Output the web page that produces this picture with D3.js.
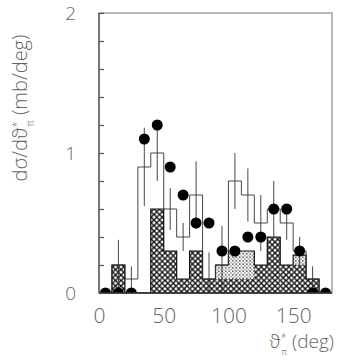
<!DOCTYPE html>
<html><head><meta charset="utf-8">
<script src="https://cdn.jsdelivr.net/npm/d3@7"></script>
<style>
body{margin:0;background:#fff;}
svg{display:block;}
.lbl{font-family:"Open Sans",sans-serif;font-weight:300;fill:#666;}
</style></head>
<body>
<svg id="c" width="337" height="361"></svg>
<script>
// bin edges (deg), 10-degree bins
const binStarts = [0,10,20,30,40,50,60,70,80,90,100,110,120,130,140,150,160,170];
// thin-line histogram and its errors
const histValues = [0,0.2,0.1,0.9,1.0,0.6,0.4,0.7,0.1,0.2,0.8,0.7,0.5,0.6,0.5,0.3,0.1,0];
const histErrors = [0,0.18,0.09,0.28,0.2,0.15,0.1,0.24,0.19,0.28,0.2,0.19,0.2,0.2,0.12,0.1,0.09,0];
// hatched histograms: total (fine pattern) and coarse cross-hatched part
const hatchFine   = [0,0.2,0,0,0.6,0.3,0.1,0.3,0.1,0.2,0.3,0.3,0.2,0.4,0.2,0.27,0.1,0];
const hatchCoarse = [0,0.2,0,0,0.6,0.3,0.1,0.3,0.1,0.1,0.1,0.1,0.2,0.4,0.2,0.2,0.1,0];
// data points (bin centres)
const dotValues = [0,0,0,1.1,1.2,0.9,0.7,0.5,0.5,0.3,0.3,0.4,0.4,0.6,0.6,0.3,0,0];
const xTicks = [0,50,100,150];
const yTicks = [0,1,2];
const yMinorTicks = [0,0.2,0.4,0.6,0.8,1.0,1.2,1.4,1.6,1.8,2.0];
const binWidth = 10;

const svg = d3.select("#c");
const x = d3.scaleLinear([0,180],[99,332]);
const y = d3.scaleLinear([0,2],[293,13]);

const defs = svg.append("defs");
// coarse crosshatch (white diamonds)
const s = 5.5;
const pc = defs.append("pattern").attr("id","coarse").attr("patternUnits","userSpaceOnUse")
  .attr("width",s).attr("height",s);
pc.append("rect").attr("width",s).attr("height",s).attr("fill","#fff");
pc.append("path").attr("d",`M0,0L${s},${s}M${s},0L0,${s}`)
  .attr("stroke","#111").attr("stroke-width",1.4);
pc.append("path").attr("d",`M${-1},${1}L${1},${-1}M${s-1},${s+1}L${s+1},${s-1}M${-1},${s-1}L${1},${s+1}M${s-1},${-1}L${s+1},${1}`)
  .attr("stroke","#111").attr("stroke-width",1.4);
// fine dotted hatch
const pf = defs.append("pattern").attr("id","fine").attr("patternUnits","userSpaceOnUse")
  .attr("width",3.5).attr("height",3.5);
pf.append("rect").attr("width",3.5).attr("height",3.5).attr("fill","#fff");
pf.append("circle").attr("cx",1.75).attr("cy",1.75).attr("r",0.8).attr("fill","#333");
pf.append("circle").attr("cx",0).attr("cy",0).attr("r",0.6).attr("fill","#333");
pf.append("circle").attr("cx",3.5).attr("cy",3.5).attr("r",0.6).attr("fill","#333");
pf.append("circle").attr("cx",0).attr("cy",3.5).attr("r",0.6).attr("fill","#333");
pf.append("circle").attr("cx",3.5).attr("cy",0).attr("r",0.6).attr("fill","#333");

defs.append("clipPath").attr("id","plot").append("rect")
  .attr("x",x(0)).attr("y",y(2)).attr("width",x(180)-x(0)).attr("height",y(0)-y(2));

const g = svg.append("g").attr("clip-path","url(#plot)");

// fine hatched bars
g.selectAll("rect.fine").data(binStarts.map((b,i)=>({b,v:hatchFine[i]})).filter(d=>d.v>0))
 .join("rect").attr("class","fine")
 .attr("x",d=>x(d.b)).attr("width",d=>x(d.b+binWidth)-x(d.b))
 .attr("y",d=>y(d.v)).attr("height",d=>y(0)-y(d.v))
 .attr("fill","url(#fine)");
// coarse hatched bars
g.selectAll("rect.coarse").data(binStarts.map((b,i)=>({b,v:hatchCoarse[i]})).filter(d=>d.v>0))
 .join("rect").attr("class","coarse")
 .attr("x",d=>x(d.b)).attr("width",d=>x(d.b+binWidth)-x(d.b))
 .attr("y",d=>y(d.v)).attr("height",d=>y(0)-y(d.v))
 .attr("fill","url(#coarse)");
// outline of the hatched histogram
const hpts = binStarts.map((b,i)=>[b,hatchFine[i]]).concat([[180,0]]);
g.append("path").attr("d",d3.line().x(d=>x(d[0])).y(d=>y(d[1])).curve(d3.curveStepAfter)(hpts))
 .attr("fill","none").attr("stroke","#111").attr("stroke-width",1.2);

// thin histogram
const tpts = binStarts.map((b,i)=>[b,histValues[i]]).concat([[180,0]]);
g.append("path").attr("d",d3.line().x(d=>x(d[0])).y(d=>y(d[1])).curve(d3.curveStepAfter)(tpts))
 .attr("fill","none").attr("stroke","#333").attr("stroke-width",0.9);
// error bars
g.selectAll("line.err").data(binStarts.map((b,i)=>({c:b+binWidth/2,v:histValues[i],e:histErrors[i]})).filter(d=>d.e>0))
 .join("line").attr("class","err")
 .attr("x1",d=>x(d.c)).attr("x2",d=>x(d.c))
 .attr("y1",d=>y(Math.max(0,d.v-d.e))).attr("y2",d=>y(d.v+d.e))
 .attr("stroke","#333").attr("stroke-width",0.9);

// dots
g.selectAll("circle").data(binStarts.map((b,i)=>({c:b+binWidth/2,v:dotValues[i]})))
 .join("circle").attr("cx",d=>x(d.c)).attr("cy",d=>y(d.v)).attr("r",5.5).attr("fill","#000");

// frame
svg.append("rect").attr("x",x(0)).attr("y",y(2)).attr("width",x(180)-x(0)).attr("height",y(0)-y(2))
 .attr("fill","none").attr("stroke","#888").attr("stroke-width",1.2);
svg.append("line").attr("x1",x(0)).attr("x2",x(0)).attr("y1",y(0)).attr("y2",y(2))
 .attr("stroke","#555").attr("stroke-width",1.3);
svg.append("line").attr("x1",x(0)).attr("x2",x(180)).attr("y1",y(0)).attr("y2",y(0))
 .attr("stroke","#222").attr("stroke-width",1.4);

// y minor ticks (inside)
const ax = svg.append("g").attr("transform",`translate(${x(0)},0)`)
 .call(d3.axisRight(y).tickValues(yMinorTicks).tickSize(5).tickFormat(""));
ax.select(".domain").remove();
ax.selectAll("line").attr("stroke","#555").attr("stroke-width",1.2);

// y labels
const yl = svg.append("g").attr("transform",`translate(${x(0)},0)`)
 .call(d3.axisLeft(y).tickValues(yTicks).tickSize(0).tickPadding(23).tickFormat(d3.format("d")));
yl.select(".domain").remove();
yl.selectAll("text").attr("class","lbl").style("font-size","19px").attr("font-family",null).attr("fill",null);

// x labels
const xl = svg.append("g").attr("transform",`translate(0,${y(0)})`)
 .call(d3.axisBottom(x).tickValues(xTicks).tickSize(0).tickPadding(15));
xl.select(".domain").remove();
xl.selectAll("text").attr("class","lbl").style("font-size","21px").attr("font-family",null).attr("fill",null);

// axis titles
const yt = svg.append("text").attr("class","lbl").style("font-size","20px")
 .attr("transform","translate(27,108) rotate(-90)").attr("text-anchor","middle");
yt.append("tspan").text("dσ/dϑ");
yt.append("tspan").text("*").attr("baseline-shift","super").style("font-size","11px");
yt.append("tspan").text("π").attr("baseline-shift","sub").style("font-size","10px").attr("dx","-5");
yt.append("tspan").text(" (mb/deg)");

const xt = svg.append("text").attr("class","lbl").style("font-size","19px")
 .attr("x",334).attr("y",348).attr("text-anchor","end");
xt.append("tspan").text("ϑ");
xt.append("tspan").text("*").attr("baseline-shift","super").style("font-size","11px");
xt.append("tspan").text("π").attr("baseline-shift","sub").style("font-size","9px").attr("dx","-5");
xt.append("tspan").text(" (deg)");
</script>
</body></html>
